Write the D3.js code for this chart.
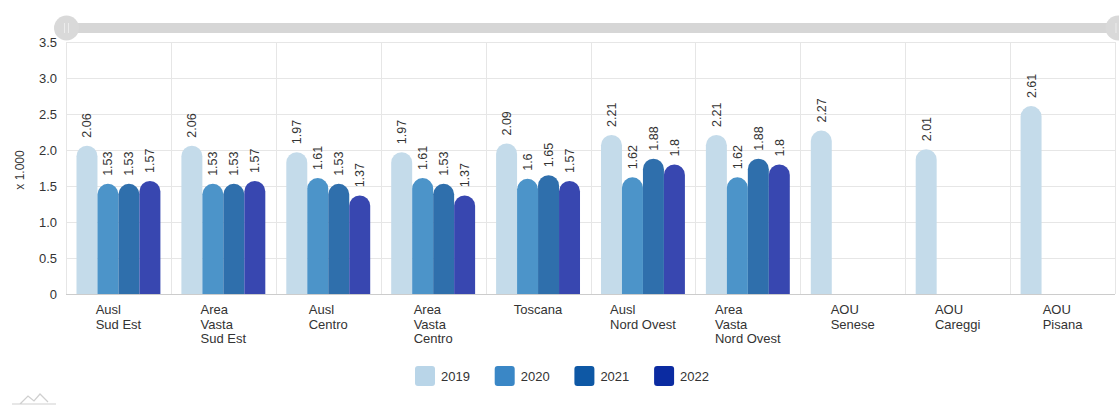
<!DOCTYPE html>
<html><head><meta charset="utf-8">
<script src="https://cdn.jsdelivr.net/npm/d3@7"></script>
<style>
html,body{margin:0;padding:0;background:#fff;}
svg{display:block;font-family:"Liberation Sans",Arial,sans-serif;}
</style></head>
<body><svg id="c" width="1119" height="406"></svg>
<script>
const categories = ["Ausl\nSud Est","Area\nVasta\nSud Est","Ausl\nCentro","Area\nVasta\nCentro","Toscana","Ausl\nNord Ovest","Area\nVasta\nNord Ovest","AOU\nSenese","AOU\nCareggi","AOU\nPisana"];
const years = ["2019","2020","2021","2022"];
const v2019 = [2.06,2.06,1.97,1.97,2.09,2.21,2.21,2.27,2.01,2.61];
const v2020 = [1.53,1.53,1.61,1.61,1.6,1.62,1.62,null,null,null];
const v2021 = [1.53,1.53,1.53,1.53,1.65,1.88,1.88,null,null,null];
const v2022 = [1.57,1.57,1.37,1.37,1.57,1.8,1.8,null,null,null];
const yTicks = [0,0.5,1.0,1.5,2.0,2.5,3.0,3.5];
const seriesValues = [v2019,v2020,v2021,v2022];
const barColors = ["#c4dbea","#4c94c9","#2f6fac","#3847b0"];
const legendColors = ["#b9d5e8","#3a87c6","#0e58a5","#0b2ba1"];

const svg = d3.select("#c");
const L = 66, R = 1115, T = 42, B = 294;

const x = d3.scaleBand().domain(categories).range([L,R]).paddingInner(0).paddingOuter(0);
const x1 = d3.scaleBand().domain(years).range([0,x.bandwidth()]).paddingInner(0).paddingOuter(0.5);
const y = d3.scaleLinear().domain([0,3.5]).range([B,T]);

// horizontal grid
svg.append("g").selectAll("line").data(yTicks).join("line")
  .attr("x1",L).attr("x2",R).attr("y1",d=>y(d)+0.5).attr("y2",d=>y(d)+0.5)
  .attr("stroke","#e6e6e6");
// vertical grid
svg.append("g").selectAll("line").data(categories.concat(["__end"])).join("line")
  .attr("x1",(d,i)=>Math.round(i<categories.length?x(d):R)+0.5)
  .attr("x2",(d,i)=>Math.round(i<categories.length?x(d):R)+0.5)
  .attr("y1",T).attr("y2",B).attr("stroke","#e6e6e6");
// baseline
svg.append("line").attr("x1",L).attr("x2",R).attr("y1",B+0.5).attr("y2",B+0.5).attr("stroke","#cccccc");

// y axis
const yAxis = d3.axisLeft(y).tickValues(yTicks).tickSize(0).tickPadding(0)
  .tickFormat(d=>d===0?"0":d3.format(".1f")(d));
const ya = svg.append("g").attr("transform",`translate(${L-9},0)`).call(yAxis);
ya.select(".domain").remove();
ya.selectAll("text").attr("font-size",13).attr("fill","#333").attr("font-family","Liberation Sans, Arial, sans-serif");

svg.append("text").attr("transform","translate(24,170) rotate(-90)")
  .attr("text-anchor","middle").attr("font-size",12).attr("fill","#333").text("x 1.000");

// bars
function barPath(x0,w,yt,yb){
  const r = Math.min(w/2, yb-yt);
  return `M${x0},${yb}V${yt+r}A${r},${r} 0 0 1 ${x0+w},${yt+r}V${yb}Z`;
}
years.forEach((yr,si)=>{
  const vals = seriesValues[si];
  const data = categories.map((c,i)=>({c,v:vals[i]})).filter(d=>d.v!=null);
  const g = svg.append("g");
  g.selectAll("path").data(data).join("path")
    .attr("d",d=>barPath(x(d.c)+x1(yr), x1.bandwidth(), y(d.v), y(0)))
    .attr("fill",barColors[si]);
  g.selectAll("text").data(data).join("text")
    .attr("transform",d=>`translate(${x(d.c)+x1(yr)+x1.bandwidth()/2+4.5},${y(d.v)-8}) rotate(-90)`)
    .attr("font-size",12.5).attr("fill","#333").text(d=>String(d.v));
});

// x labels: block centred on category, lines left-aligned
const xl = svg.append("g");
categories.forEach(c=>{
  const t = xl.append("text").attr("y",B+20).attr("font-size",13).attr("fill","#333");
  const spans = c.split("\n").map((ln,i)=>
    t.append("tspan").attr("dy",i===0?0:14.5).text(ln));
  const w = d3.max(spans, s=>s.node().getComputedTextLength());
  const lx = x(c) + x.bandwidth()/2 - w/2;
  spans.forEach(s=>s.attr("x",lx));
});

// legend
const lg = svg.append("g");
years.forEach((yr,i)=>{
  const lx = 415 + i*79.7;
  lg.append("rect").attr("x",lx).attr("y",366).attr("width",20).attr("height",20).attr("rx",3)
    .attr("fill",legendColors[i]);
  lg.append("text").attr("x",lx+26).attr("y",381).attr("font-size",13).attr("fill","#333").text(yr);
});

// top scroller
const sc = svg.append("g");
sc.append("rect").attr("x",72).attr("y",23).attr("width",1040).attr("height",10).attr("fill","#d6d6d6");
[66.5,1118].forEach(cx=>{
  sc.append("circle").attr("cx",cx).attr("cy",28).attr("r",12.5).attr("fill","#d9d9d9");
  sc.append("line").attr("x1",cx-2).attr("x2",cx-2).attr("y1",23).attr("y2",33).attr("stroke","#ececec").attr("stroke-width",1);
  sc.append("line").attr("x1",cx+2).attr("x2",cx+2).attr("y1",23).attr("y2",33).attr("stroke","#ececec").attr("stroke-width",1);
});

// small icon bottom-left
svg.append("path").attr("d","M12,404 L56,404 M20,404 L28,396 L34,401 L40,394 L48,402")
  .attr("fill","none").attr("stroke","#cfcfcf").attr("stroke-width",1.2);
</script>
</body></html>
